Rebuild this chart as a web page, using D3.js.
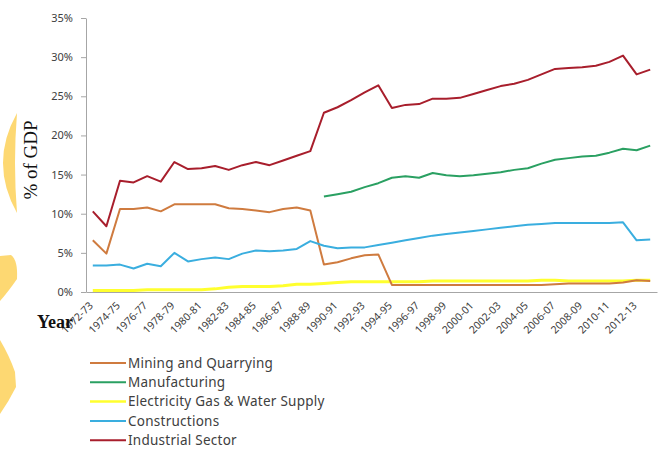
<!DOCTYPE html>
<html>
<head>
<meta charset="utf-8">
<script src="https://cdn.jsdelivr.net/npm/d3@7"></script>
<style>
    body { margin: 0; background: #fff; }
    svg { display: block; }
    .axis path, .axis line { stroke: #a6a6a6; }
    .axis text { font-family: "Noto Sans", sans-serif; fill: #404040; }
    .legendText { font-family: "Noto Sans", sans-serif; font-size: 13.5px; letter-spacing: 0.25px; fill: #404040; }
    .deco { fill: #fdd872; }
</style>
</head>
<body>
<div id="chart"></div>
<script>
// years on the x axis
let years = ["1972-73", "1973-74", "1974-75", "1975-76", "1976-77", "1977-78", "1978-79", "1979-80",
    "1980-81", "1981-82", "1982-83", "1983-84", "1984-85", "1985-86", "1986-87", "1987-88",
    "1988-89", "1989-90", "1990-91", "1991-92", "1992-93", "1993-94", "1994-95", "1995-96",
    "1996-97", "1997-98", "1998-99", "1999-00", "2000-01", "2001-02", "2002-03", "2003-04",
    "2004-05", "2005-06", "2006-07", "2007-08", "2008-09", "2009-10", "2010-11", "2011-12",
    "2012-13", "2013-14"];

let tickLabels = ["1972-73", "1974-75", "1976-77", "1978-79", "1980-81", "1982-83", "1984-85",
    "1986-87", "1988-89", "1990-91", "1992-93", "1994-95", "1996-97", "1998-99", "2000-01",
    "2002-03", "2004-05", "2006-07", "2008-09", "2010-11", "2012-13"];

let yTicks = [0, 5, 10, 15, 20, 25, 30, 35];

// % of GDP
let mining = [6.6, 4.9, 10.6, 10.6, 10.8, 10.3, 11.2, 11.2, 11.2, 11.2, 10.7, 10.6, 10.4, 10.2,
    10.6, 10.8, 10.4, 3.5, 3.8, 4.3, 4.7, 4.8, 0.9, 0.9, 0.9, 0.9, 0.9, 0.9, 0.9, 0.9, 0.9, 0.9,
    0.9, 0.9, 1.0, 1.1, 1.1, 1.1, 1.1, 1.2, 1.5, 1.4];

let manufacturing = [null, null, null, null, null, null, null, null, null, null, null, null, null,
    null, null, null, null, 12.2, 12.5, 12.8, 13.4, 13.9, 14.6, 14.8, 14.6, 15.2, 14.9, 14.8, 14.9,
    15.1, 15.3, 15.6, 15.8, 16.4, 16.9, 17.1, 17.3, 17.4, 17.8, 18.3, 18.1, 18.7];

let electricity = [0.2, 0.2, 0.2, 0.2, 0.3, 0.3, 0.3, 0.3, 0.3, 0.4, 0.6, 0.7, 0.7, 0.7, 0.8,
    1.0, 1.0, 1.1, 1.2, 1.3, 1.3, 1.3, 1.3, 1.3, 1.3, 1.4, 1.4, 1.4, 1.4, 1.4, 1.4, 1.4, 1.4, 1.5,
    1.5, 1.4, 1.4, 1.4, 1.4, 1.4, 1.5, 1.5];

let constructions = [3.4, 3.4, 3.5, 3.0, 3.6, 3.3, 5.0, 3.9, 4.2, 4.4, 4.2, 4.9, 5.3, 5.2, 5.3,
    5.5, 6.5, 5.9, 5.6, 5.7, 5.7, 6.0, 6.3, 6.6, 6.9, 7.2, 7.4, 7.6, 7.8, 8.0, 8.2, 8.4, 8.6, 8.7,
    8.8, 8.8, 8.8, 8.8, 8.8, 8.9, 6.6, 6.7];

let industrial = [10.3, 8.4, 14.2, 14.0, 14.8, 14.1, 16.6, 15.7, 15.8, 16.1, 15.6, 16.2, 16.6,
    16.2, 16.8, 17.4, 18.0, 22.9, 23.6, 24.5, 25.5, 26.4, 23.5, 23.9, 24.0, 24.7, 24.7, 24.8, 25.3,
    25.8, 26.3, 26.6, 27.1, 27.8, 28.5, 28.6, 28.7, 28.9, 29.4, 30.2, 27.8, 28.4];

let seriesNames = ["Mining and Quarrying", "Manufacturing", "Electricity Gas & Water Supply",
    "Constructions", "Industrial Sector"];
let seriesValues = [mining, manufacturing, electricity, constructions, industrial];

class LineChart {

    constructor() {
        this.width = 658;
        this.height = 449;
        this.margin = {top: 18, right: 1, bottom: 157, left: 86};
        this.colors = ["#cf7b3f", "#2aa062", "#ffff2e", "#3aaedf", "#a81e2c"];
        this.widths = [2, 2, 3, 2, 2];

        this.svg = d3.select("#chart").append("svg")
            .attr("width", this.width)
            .attr("height", this.height);

        this.drawDecorations();

        this.x = d3.scaleBand()
            .domain(years)
            .range([this.margin.left, this.width - this.margin.right]);
        this.y = d3.scaleLinear()
            .domain([0, 35])
            .range([this.height - this.margin.bottom, this.margin.top]);

        this.drawAxes();
        this.drawLines();
        this.drawLegend();
    }

    // yellow shapes from the slide background
    drawDecorations() {
        this.svg.append("path").classed("deco", true)
            .attr("d", "M17,113 Q-11,163 17,213 Q13,163 17,113 Z");
        this.svg.append("path").classed("deco", true)
            .attr("d", "M0,256 L11,255 Q18,260 17,279 Q8,292 0,301 Z");
        this.svg.append("path").classed("deco", true)
            .attr("d", "M0,340 Q9,355 15,372 L16,387 Q9,401 0,414 Z");
    }

    drawAxes() {
        let yAxis = d3.axisLeft(this.y)
            .tickValues(yTicks)
            .tickFormat(d => d + "%")
            .tickSize(5)
            .tickSizeOuter(0)
            .tickPadding(8);

        let gy = this.svg.append("g")
            .attr("class", "axis")
            .attr("transform", "translate(" + this.margin.left + ",0)")
            .call(yAxis);
        gy.selectAll("text").style("font-size", "11px");

        let xAxis = d3.axisBottom(this.x)
            .tickValues(tickLabels)
            .tickSize(0)
            .tickSizeOuter(0);

        let gx = this.svg.append("g")
            .attr("class", "axis")
            .attr("transform", "translate(0," + (this.height - this.margin.bottom) + ")")
            .call(xAxis);
        gx.selectAll("text")
            .style("font-size", "10.5px")
            .style("text-anchor", "end")
            .attr("x", -9.5)
            .attr("y", 7)
            .attr("dy", "0.35em")
            .attr("transform", "rotate(-45)");

        // axis titles
        this.svg.append("text")
            .attr("transform", "translate(37,160) rotate(-90)")
            .attr("text-anchor", "middle")
            .style("font-family", "'Liberation Serif', serif")
            .style("font-size", "19px")
            .style("fill", "#111")
            .text("% of GDP");

        this.svg.append("text")
            .attr("x", 37)
            .attr("y", 328)
            .style("font-family", "'Liberation Serif', serif")
            .style("font-size", "18px")
            .style("font-weight", "bold")
            .style("fill", "#111")
            .text("Year");
    }

    drawLines() {
        let that = this;
        let line = d3.line()
            .defined(d => d.v !== null)
            .x(d => that.x(d.year) + that.x.bandwidth() / 2)
            .y(d => that.y(d.v));

        // electricity first so mining sits on top of it near the end
        let order = [2, 0, 1, 3, 4];
        order.forEach(function(s) {
            let pts = years.map((yr, i) => ({year: yr, v: seriesValues[s][i]}));
            that.svg.append("path")
                .datum(pts)
                .attr("fill", "none")
                .attr("stroke", that.colors[s])
                .attr("stroke-width", that.widths[s])
                .attr("stroke-linejoin", "round")
                .attr("d", line);
        });
    }

    drawLegend() {
        let that = this;
        let rows = this.svg.selectAll(".legendRow").data(seriesNames);
        rows = rows.enter().append("g").merge(rows)
            .attr("class", "legendRow")
            .attr("transform", (d, i) => "translate(0," + (363 + i * 19.3) + ")");

        rows.append("line")
            .attr("x1", 90)
            .attr("x2", 126)
            .attr("stroke", (d, i) => that.colors[i])
            .attr("stroke-width", (d, i) => i === 2 ? 2.5 : 2);

        rows.append("text")
            .attr("x", 128)
            .attr("dy", "0.35em")
            .classed("legendText", true)
            .text(d => d);
    }
}

new LineChart();
</script>
</body>
</html>
